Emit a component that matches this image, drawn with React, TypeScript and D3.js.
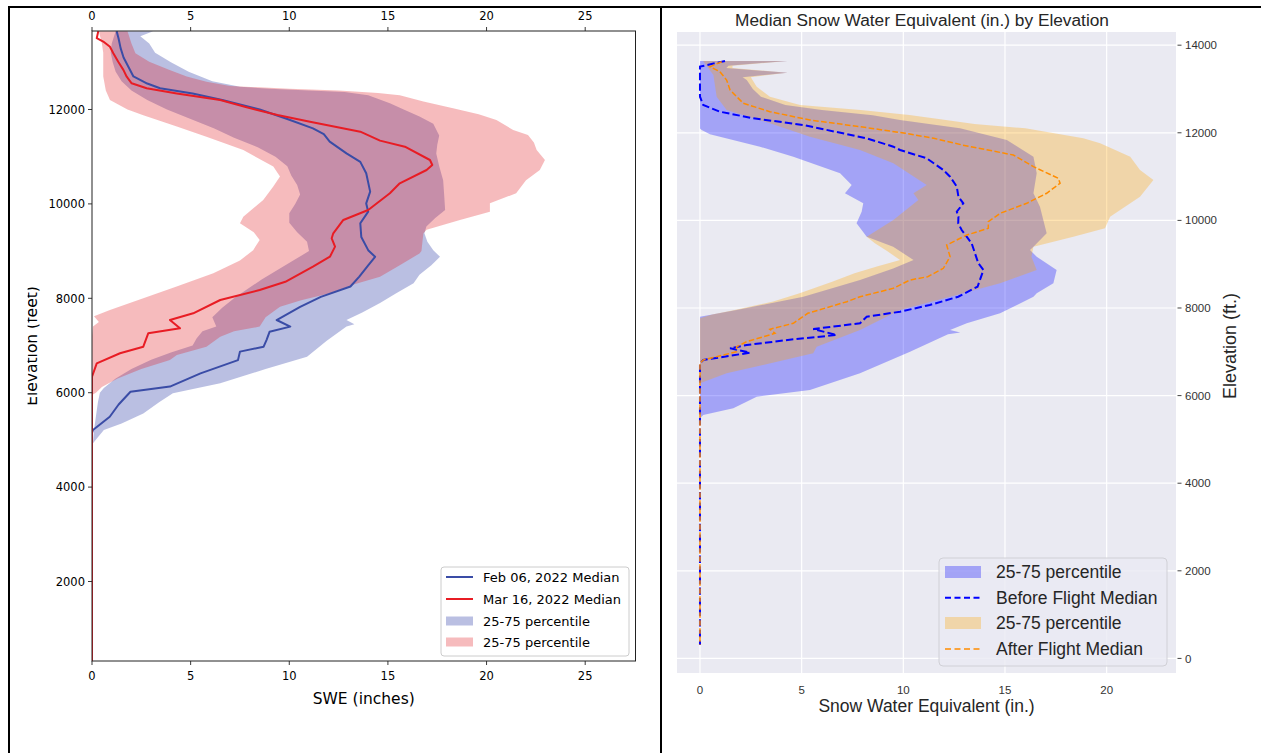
import React from 'react';
import * as d3 from 'd3';

type P = [number, number]; // [elevation ft, SWE in]

// ---------------- LEFT PANEL DATA ----------------
const febMedianLeft: P[] = [
  [13660, 1.25], [13500, 1.35], [13300, 1.45], [13100, 1.6], [12900, 1.85], [12700, 2.1], [12550, 2.8],
  [12450, 3.45], [12340, 5.1], [12200, 6.6], [12000, 8.5], [11800, 9.9], [11600, 11.2], [11480, 11.75],
  [11320, 12.05], [11070, 12.9], [10890, 13.6], [10650, 13.9], [10260, 14.1], [10010, 13.9], [9835, 14.0],
  [9590, 13.6], [9300, 13.65], [9020, 14.0], [8880, 14.35], [8700, 14.0], [8460, 13.55], [8250, 13.1],
  [8030, 11.6], [7820, 10.55], [7540, 9.36], [7400, 10.05], [7290, 9.0], [7120, 8.85], [6975, 8.7],
  [6870, 7.5], [6690, 7.4], [6410, 5.5], [6130, 3.95], [6020, 1.95], [5750, 1.35], [5490, 0.9],
  [5210, 0.05], [5150, 0], [316, 0],
];
const marMedianLeft: P[] = [
  [13660, 0.32], [13510, 0.24], [13440, 0.57], [13330, 0.91], [13190, 1.08], [13010, 1.33], [12840, 1.59],
  [12695, 1.76], [12555, 2.01], [12450, 2.77], [12340, 4.3], [12200, 6.5], [12046, 7.84], [11883, 9.4],
  [11742, 11.05], [11530, 13.6], [11340, 14.6], [11212, 15.86], [10930, 17.13], [10824, 17.25],
  [10718, 16.96], [10436, 15.6], [10225, 15.1], [9871, 14.0], [9660, 12.74], [9377, 12.23], [9271, 12.15],
  [9094, 12.32], [8881, 12.06], [8669, 11.2], [8350, 9.8], [8176, 8.5], [7964, 6.5], [7682, 5.13],
  [7540, 3.95], [7364, 4.46], [7258, 2.85], [6975, 2.6], [6835, 1.42], [6623, 0.24], [6339, 0], [316, 0],
];
const febBandHiLeft: P[] = [
  [13660, 3.1], [13550, 2.45], [13400, 2.9], [13200, 3.2], [13000, 4.0], [12800, 4.9], [12600, 6.1],
  [12480, 7.5], [12440, 9.0], [12400, 11.0], [12370, 12.8], [12300, 14.0], [12130, 15.1], [12000, 15.8],
  [11850, 16.6], [11700, 17.3], [11450, 17.6], [11250, 17.5], [11070, 17.45], [10800, 17.6], [10500, 17.8],
  [10200, 17.85], [9870, 17.9], [9700, 17.4], [9520, 16.95], [9380, 16.85], [9200, 17.0], [9020, 17.3],
  [8880, 17.64], [8700, 17.2], [8500, 16.6], [8320, 16.3], [8100, 15.4], [7900, 14.6], [7700, 13.7],
  [7540, 12.9], [7450, 13.3], [7400, 12.9], [7100, 11.9], [6760, 10.9], [6500, 8.8], [6200, 6.5],
  [5990, 4.1], [5800, 3.4], [5560, 2.6], [5350, 1.5], [5210, 0.6], [4930, 0.05],
];
const febBandLoLeft: P[] = [
  [13660, 1.2], [13400, 1.0], [13200, 0.95], [13000, 1.05], [12800, 1.2], [12600, 1.5], [12400, 2.0],
  [12200, 2.8], [12000, 3.8], [11800, 5.0], [11600, 6.2], [11400, 7.2], [11200, 8.4], [11000, 9.3],
  [10800, 9.9], [10600, 10.1], [10400, 10.4], [10200, 10.55], [10000, 10.3], [9800, 10.0], [9600, 10.0],
  [9400, 10.4], [9200, 10.9], [9000, 11.0], [8800, 10.2], [8600, 9.4], [8400, 8.6], [8200, 7.9],
  [8000, 7.2], [7800, 6.6], [7600, 6.1], [7400, 6.3], [7300, 5.6], [7150, 5.3], [7000, 5.1], [6850, 4.0],
  [6700, 3.0], [6500, 2.0], [6300, 1.2], [6100, 0.6], [6000, 0.4], [5800, 0.3], [5500, 0.2], [5200, 0.1],
  [4930, 0.05],
];
const marBandHiLeft: P[] = [
  [13660, 1.8], [13400, 2.0], [13190, 2.2], [13010, 2.9], [12840, 3.9], [12700, 4.8], [12590, 5.8],
  [12500, 7.0], [12440, 10.0], [12400, 12.5], [12350, 14.5], [12300, 15.6], [12170, 16.8], [12025, 18.3],
  [11900, 19.6], [11780, 20.5], [11565, 21.35], [11460, 22.1], [11300, 22.4], [11142, 22.54],
  [10930, 22.96], [10718, 22.7], [10500, 22.0], [10225, 21.5], [10013, 20.17], [9835, 20.17],
  [9660, 18.65], [9450, 16.96], [9380, 16.8], [9200, 16.75], [9000, 16.7], [8950, 16.6], [8700, 15.6],
  [8458, 14.6], [8300, 13.3], [8106, 12.06], [7960, 10.6], [7822, 9.53], [7600, 8.8], [7400, 8.5],
  [7300, 7.2], [7187, 6.5], [6975, 5.8], [6800, 4.3], [6693, 3.95], [6500, 2.5], [6300, 1.3], [6120, 0.5],
  [6000, 0.2], [5950, 0],
];
const marBandLoLeft: P[] = [
  [13660, 0.35], [13400, 0.5], [13200, 0.57], [12700, 0.57], [12400, 0.7], [12200, 0.91], [12000, 1.8],
  [11880, 2.6], [11640, 4.3], [11420, 5.8], [11140, 7.67], [10790, 9.19], [10580, 9.53], [10370, 9.19],
  [10080, 8.68], [9730, 7.67], [9590, 7.5], [9400, 8.2], [9235, 8.5], [9020, 8.17], [8800, 7.5],
  [8530, 6.15], [8250, 4.29], [8000, 2.6], [7750, 0.91], [7620, 0.1], [7500, 0.35], [7400, 0.05],
  [7200, 0], [5950, 0],
];

// ---------------- RIGHT PANEL DATA ----------------
const beforeMedianRight: P[] = [
  [13639, 1.23], [13510, 0], [13434, 0], [12824, 0], [12635, 0.16], [12482, 0.98], [12331, 2.62],
  [12178, 5.08], [11874, 8.2], [11683, 9.51], [11607, 9.84], [11418, 11.15], [11151, 11.97], [10998, 12.3],
  [10770, 12.63], [10541, 12.71], [10390, 12.95], [10199, 12.63], [10085, 12.71], [9934, 12.7],
  [9781, 12.87], [9477, 13.36], [9020, 13.69], [8868, 13.94], [8486, 13.65], [8258, 12.7], [8068, 11.3],
  [7916, 9.84], [7801, 8.2], [7651, 7.87], [7520, 5.57], [7384, 6.72], [7285, 4.59], [7155, 2.3],
  [7080, 1.48], [6980, 2.46], [6813, 0.16], [6737, 0], [306, 0],
];
const afterMedianRight: P[] = [
  [13623, 1.07], [13509, 0.49], [13395, 0.98], [13205, 1.31], [12977, 1.48], [12673, 2.13], [12482, 3.44],
  [12292, 5.41], [12139, 7.87], [11989, 10.1], [11874, 11.5], [11721, 12.9], [11493, 15.41], [11226, 16.4],
  [10961, 17.62], [10847, 17.71], [10619, 17.05], [10390, 16.07], [10162, 14.76], [9970, 14.18],
  [9819, 14.18], [9666, 13.12], [9438, 12.13], [9171, 12.3], [8906, 11.97], [8715, 11.2], [8639, 10.33],
  [8450, 9.51], [8258, 7.87], [8144, 7.22], [7879, 5.3], [7651, 4.59], [7514, 3.44], [7422, 3.69],
  [7231, 2.3], [7117, 1.8], [7002, 1.8], [6813, 0.16], [6737, 0], [306, 0],
];
const beforeBandHiRight: P[] = [
  [13640, 4.3], [13530, 1.4], [13480, 1.3], [13370, 4.3], [13270, 2.1], [13205, 2.3], [13000, 2.6],
  [12824, 3.0], [12635, 4.2], [12521, 6.0], [12400, 8.5], [12292, 9.84], [12102, 12.79], [11836, 15.09],
  [11455, 16.4], [11075, 16.56], [10619, 16.4], [10313, 16.72], [9705, 17.05], [9400, 16.4], [9324, 16.23],
  [9171, 16.56], [8868, 17.54], [8563, 17.38], [8335, 16.56], [8258, 16.4], [7879, 14.76], [7651, 13.12],
  [7498, 12.3], [7440, 12.8], [7400, 12.2], [7002, 10.33], [6509, 7.87], [6128, 5.41], [5975, 2.79],
  [5710, 1.64], [5557, 0.16], [5482, 0],
];
const beforeBandLoRight: P[] = [
  [13640, 0], [12100, 0], [12064, 0.08], [11966, 0.49], [11683, 2.95], [11455, 4.59], [11075, 6.89],
  [10808, 7.46], [10619, 7.13], [10390, 8.03], [10199, 7.95], [9934, 7.7], [9628, 8.2], [9400, 9.5],
  [9096, 10.5], [8900, 9.5], [8639, 7.87], [8258, 5.08], [7954, 1.8], [7801, 0], [5482, 0],
];
const afterBandHiRight: P[] = [
  [13640, 4.3], [13530, 1.6], [13480, 1.6], [13370, 4.3], [13270, 2.5], [13053, 2.79], [12824, 3.44],
  [12635, 4.92], [12521, 7.9], [12406, 10.3], [12300, 12.0], [12200, 13.5], [12102, 16.0], [11874, 18.85],
  [11760, 19.68], [11455, 21.16], [11151, 21.64], [10922, 22.3], [10541, 21.64], [10085, 20.17],
  [9819, 19.92], [9628, 18.36], [9400, 16.4], [9171, 16.3], [8868, 16.56], [8563, 14.76], [8258, 12.3],
  [7954, 9.84], [7498, 7.87], [7117, 5.74], [6966, 5.57], [6509, 1.31], [6281, 0],
];
const afterBandLoRight: P[] = [
  [13640, 0.15], [13320, 0.66], [12824, 0.82], [12521, 1.31], [12217, 3.44], [11911, 5.41], [11607, 7.87],
  [11304, 9.51], [10808, 11.15], [10619, 10.5], [10466, 10.74], [10009, 9.51], [9628, 8.2], [9477, 8.6],
  [9300, 9.2], [9096, 9.84], [8950, 8.7], [8792, 7.6], [8600, 6.5], [8335, 4.9], [8150, 3.6], [7954, 1.7],
  [7850, 0.6], [7765, 0], [6281, 0],
];

// ---------------- TICKS / LABELS ----------------
const leftXTicks = [0, 5, 10, 15, 20, 25];
const leftYTicks = [2000, 4000, 6000, 8000, 10000, 12000];
const rightXTicks = [0, 5, 10, 15, 20];
const rightYTicks = [0, 2000, 4000, 6000, 8000, 10000, 12000, 14000];
const leftLegendLabels = ['Feb 06, 2022 Median', 'Mar 16, 2022 Median', '25-75 percentile', '25-75 percentile'];
const rightLegendLabels = ['25-75 percentile', 'Before Flight Median', '25-75 percentile', 'After Flight Median'];

const LFONT = '"DejaVu Sans", sans-serif';
const RFONT = '"Liberation Sans", Arial, sans-serif';

const BLUE_L = '#3a4ca6';
const RED_L = '#e81c24';
const BLUE_FILL_L = 'rgba(57,73,171,0.35)';
const RED_FILL_L = 'rgba(225,30,35,0.3)';
const BLUE_FILL_R = 'rgba(0,0,255,0.3)';
const ORANGE_FILL_R = 'rgba(255,165,0,0.3)';
const BLUE_R = '#0000ff';
const ORANGE_R = '#ff8c00';

function mkLine(x: d3.ScaleLinear<number, number>, y: d3.ScaleLinear<number, number>) {
  return d3.line<P>().x(d => x(d[1])).y(d => y(d[0]));
}
function bandPath(hi: P[], lo: P[], x: d3.ScaleLinear<number, number>, y: d3.ScaleLinear<number, number>) {
  const pts = [...hi, ...[...lo].reverse()];
  return (mkLine(x, y)(pts) || '') + 'Z';
}

export default function App() {
  // Left scales
  const xL = d3.scaleLinear().domain([0, 27.55]).range([92, 635.5]);
  const yL = d3.scaleLinear().domain([316, 13663]).range([661, 31]);
  // Right scales
  const xR = d3.scaleLinear().domain([-1.13, 23.41]).range([677, 1176]);
  const yR = d3.scaleLinear().domain([-333, 14301]).range([673, 32]);
  const lineL = mkLine(xL, yL);
  const lineR = mkLine(xR, yR);

  const lRows = [577, 599, 621, 642];
  const rRows = [572, 597.7, 623, 649];

  return (
    <svg width={1261} height={753} style={{ position: 'absolute', left: 0, top: 0, background: '#fff' }}>
      <defs>
        <clipPath id="clipL"><rect x={92} y={31} width={543.5} height={630} /></clipPath>
        <clipPath id="clipR"><rect x={677} y={32} width={499} height={641} /></clipPath>
        <clipPath id="clipYLab"><rect x={27.6} y={0} width={40} height={753} /></clipPath>
      </defs>

      {/* table borders */}
      <line x1={8} x2={1261} y1={7} y2={7} stroke="#000" strokeWidth={2} />
      <line x1={9} x2={9} y1={6} y2={753} stroke="#000" strokeWidth={2} />
      <line x1={661} x2={661} y1={6} y2={753} stroke="#000" strokeWidth={2} />

      {/* ========== LEFT PANEL ========== */}
      <g clipPath="url(#clipL)">
        <path d={bandPath(febBandHiLeft, febBandLoLeft, xL, yL)} fill={BLUE_FILL_L} />
        <path d={bandPath(marBandHiLeft, marBandLoLeft, xL, yL)} fill={RED_FILL_L} />
        <path d={lineL(febMedianLeft) || ''} fill="none" stroke={BLUE_L} strokeWidth={2} strokeLinejoin="round" />
        <path d={lineL(marMedianLeft) || ''} fill="none" stroke={RED_L} strokeWidth={2} strokeLinejoin="round" />
      </g>
      <rect x={92} y={31} width={543.5} height={630} fill="none" stroke="#222" strokeWidth={1} />
      <g fontFamily={LFONT} fontSize={11.5} fill="#000">
        {leftXTicks.map(t => (
          <g key={'lxb' + t}>
            <line x1={xL(t)} x2={xL(t)} y1={661} y2={665} stroke="#222" strokeWidth={0.9} />
            <text x={xL(t)} y={680} textAnchor="middle">{t}</text>
            <line x1={xL(t)} x2={xL(t)} y1={31} y2={27} stroke="#222" strokeWidth={0.9} />
            <text x={xL(t)} y={19.5} textAnchor="middle">{t}</text>
          </g>
        ))}
        {leftYTicks.map(t => (
          <g key={'ly' + t}>
            <line x1={88} x2={92} y1={yL(t)} y2={yL(t)} stroke="#222" strokeWidth={0.9} />
            <text x={85} y={yL(t) + 4.2} textAnchor="end">{t}</text>
          </g>
        ))}
      </g>
      <text x={363.75} y={704} textAnchor="middle" fontFamily={LFONT} fontSize={15.5} fill="#000">SWE (inches)</text>
      <g clipPath="url(#clipYLab)">
        <text transform="rotate(-90)" x={-346} y={37} textAnchor="middle" fontFamily={LFONT} fontSize={15.5} fill="#000">Elevation (feet)</text>
      </g>
      {/* left legend */}
      <g fontFamily={LFONT} fontSize={13} fill="#000">
        <rect x={441} y={567} width={188} height={89} rx={3} fill="rgba(255,255,255,0.8)" stroke="#cccccc" strokeWidth={1} />
        <line x1={446} x2={473} y1={lRows[0]} y2={lRows[0]} stroke={BLUE_L} strokeWidth={2} />
        <line x1={446} x2={473} y1={lRows[1]} y2={lRows[1]} stroke={RED_L} strokeWidth={2} />
        <rect x={446} y={lRows[2] - 4.5} width={27} height={9} fill={BLUE_FILL_L} />
        <rect x={446} y={lRows[3] - 4.5} width={27} height={9} fill={RED_FILL_L} />
        {leftLegendLabels.map((s, i) => (
          <text key={'ll' + i} x={483} y={lRows[i] + 4.6}>{s}</text>
        ))}
      </g>

      {/* ========== RIGHT PANEL ========== */}
      <rect x={677} y={32} width={499} height={641} fill="#eaeaf2" />
      {rightXTicks.map(t => (
        <line key={'rgx' + t} x1={xR(t)} x2={xR(t)} y1={32} y2={673} stroke="#fff" strokeWidth={1.2} />
      ))}
      {rightYTicks.map(t => (
        <line key={'rgy' + t} x1={677} x2={1176} y1={yR(t)} y2={yR(t)} stroke="#fff" strokeWidth={1.2} />
      ))}
      <g clipPath="url(#clipR)">
        <path d={bandPath(beforeBandHiRight, beforeBandLoRight, xR, yR)} fill={BLUE_FILL_R} />
        <path d={bandPath(afterBandHiRight, afterBandLoRight, xR, yR)} fill={ORANGE_FILL_R} />
        <path d={lineR(beforeMedianRight) || ''} fill="none" stroke={BLUE_R} strokeWidth={2} strokeDasharray="7.4,3.2" />
        <path d={lineR(afterMedianRight) || ''} fill="none" stroke={ORANGE_R} strokeWidth={1.5} strokeDasharray="5.6,2.4" />
      </g>
      <g fontFamily={RFONT} fontSize={11.5} fill="#333">
        {rightXTicks.map(t => (
          <text key={'rxt' + t} x={xR(t)} y={694} textAnchor="middle">{t}</text>
        ))}
        {rightYTicks.map(t => (
          <g key={'ryt' + t}>
            <line x1={1177.5} x2={1181.5} y1={yR(t)} y2={yR(t)} stroke="#444" strokeWidth={1} />
            <text x={1185} y={yR(t) + 4.1}>{t}</text>
          </g>
        ))}
      </g>
      <text x={922} y={26} textAnchor="middle" fontFamily={RFONT} fontSize={17.3} fill="#262626">Median Snow Water Equivalent (in.) by Elevation</text>
      <text x={926.5} y={712} textAnchor="middle" fontFamily={RFONT} fontSize={17.5} fill="#262626">Snow Water Equivalent (in.)</text>
      <text transform="rotate(-90)" x={-346} y={1236} textAnchor="middle" fontFamily={RFONT} fontSize={18} fill="#262626">Elevation (ft.)</text>
      {/* right legend */}
      <g fontFamily={RFONT} fontSize={17.5} fill="#262626">
        <rect x={939} y={558} width={228} height={108} rx={4} fill="rgba(234,234,242,0.8)" stroke="#d0d0d6" strokeWidth={1} />
        <rect x={945} y={rRows[0] - 6} width={36} height={12} fill={BLUE_FILL_R} />
        <line x1={945} x2={981} y1={rRows[1]} y2={rRows[1]} stroke={BLUE_R} strokeWidth={2} strokeDasharray="6,3.5" />
        <rect x={945} y={rRows[2] - 6} width={36} height={12} fill={ORANGE_FILL_R} />
        <line x1={945} x2={981} y1={rRows[3]} y2={rRows[3]} stroke={ORANGE_R} strokeWidth={1.5} strokeDasharray="6,3.5" />
        {rightLegendLabels.map((s, i) => (
          <text key={'rl' + i} x={996} y={rRows[i] + 6}>{s}</text>
        ))}
      </g>
    </svg>
  );
}
